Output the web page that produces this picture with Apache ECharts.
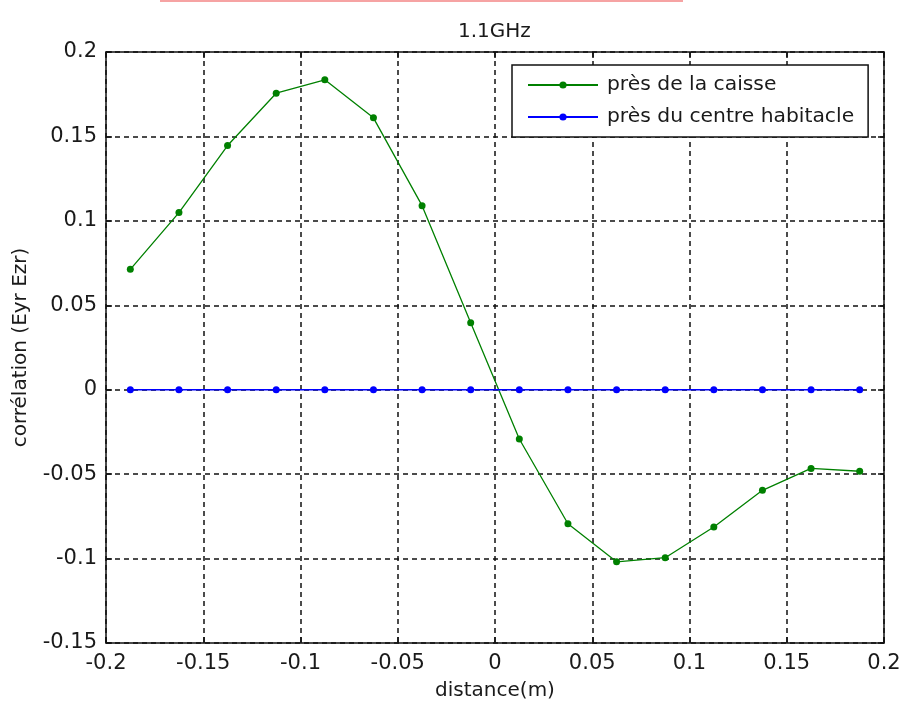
<!DOCTYPE html>
<html><head><meta charset="utf-8">
<script src="https://cdn.jsdelivr.net/npm/echarts@6/dist/echarts.min.js"></script>
<style>html,body{margin:0;padding:0;background:#fff}#c{width:899px;height:707px}</style>
</head><body><div id="c"></div>
<script>
const distances = [-0.1875,-0.1625,-0.1375,-0.1125,-0.0875,-0.0625,-0.0375,-0.0125,0.0125,0.0375,0.0625,0.0875,0.1125,0.1375,0.1625,0.1875];
const presCaisse = [0.0713,0.1049,0.1446,0.1756,0.1835,0.161,0.109,0.0397,-0.0292,-0.0794,-0.1019,-0.0995,-0.0813,-0.0596,-0.0466,-0.0483];
const presCentre = [0,0,0,0,0,0,0,0,0,0,0,0,0,0,0,0];
const seriesNames = ['près de la caisse','près du centre habitacle'];
const titleText = '1.1GHz';
const xName = 'distance(m)';
const yName = 'corrélation (Eyr Ezr)';

const FONT = 'DejaVu Sans';
const TXT = '#1a1a1a';
const chart = echarts.init(document.getElementById('c'), null, {renderer:'canvas'});
const pairs = (xs, ys) => xs.map((x,i)=>[x, ys[i]]);
const axisLine = {show:true, onZero:false, lineStyle:{color:'#111', width:1.5}};
const tick = {show:true, inside:true, length:6, lineStyle:{color:'#111', width:1.5}};
const split = {show:true, lineStyle:{color:'#111', width:1.5, type:[5,4]}};
const fmt = v => String(Math.round(v*1000)/1000);
chart.setOption({
  animation:false,
  backgroundColor:'#fff',
  title:{text:titleText, left:453, top:17, textStyle:{fontFamily:FONT, fontSize:20, fontWeight:'normal', color:TXT}},
  graphic:[{type:'rect', shape:{x:160, y:0, width:523, height:2}, style:{fill:'#f6a3a3'}}],
  grid:{left:106, right:15, top:52, bottom:64, containLabel:false, outerBoundsMode:'none'},
  legend:{
    orient:'vertical', left:512, top:65, padding:[9,14,9,15], itemWidth:70, itemHeight:9, itemGap:10,
    borderColor:'#111', borderWidth:1.5, backgroundColor:'#fff',
    textStyle:{fontFamily:FONT, fontSize:20.3, lineHeight:22, color:TXT, padding:[0,0,0,4]},
    data:seriesNames
  },
  xAxis:[{
    type:'value', min:-0.2, max:0.2, interval:0.05, position:'bottom',
    axisLine, axisTick:tick, splitLine:split,
    axisLabel:{fontFamily:FONT, fontSize:21, color:TXT, margin:10, formatter:fmt},
    name:xName, nameLocation:'middle', nameGap:38,
    nameTextStyle:{fontFamily:FONT, fontSize:20, color:TXT}
  },{
    type:'value', min:-0.2, max:0.2, interval:0.05, position:'top',
    axisLine, axisTick:tick, splitLine:{show:false}, axisLabel:{show:false}
  }],
  yAxis:[{
    type:'value', min:-0.15, max:0.2, interval:0.05, position:'left',
    axisLine, axisTick:tick, splitLine:split,
    axisLabel:{fontFamily:FONT, fontSize:21, color:TXT, margin:9, formatter:fmt},
    name:yName, nameLocation:'middle', nameGap:75,
    nameTextStyle:{fontFamily:FONT, fontSize:20, color:TXT}
  },{
    type:'value', min:-0.15, max:0.2, interval:0.05, position:'right',
    axisLine, axisTick:tick, splitLine:{show:false}, axisLabel:{show:false}
  }],
  series:[{
    name:seriesNames[0], type:'line', data:pairs(distances, presCaisse),
    symbol:'circle', symbolSize:7, color:'#008000',
    lineStyle:{color:'#008000', width:1.3}, itemStyle:{color:'#008000'}
  },{
    name:seriesNames[1], type:'line', data:pairs(distances, presCentre),
    symbol:'circle', symbolSize:7, color:'#0000ff',
    lineStyle:{color:'#0000ff', width:1.6}, itemStyle:{color:'#0000ff'}
  }]
});
</script></body></html>
